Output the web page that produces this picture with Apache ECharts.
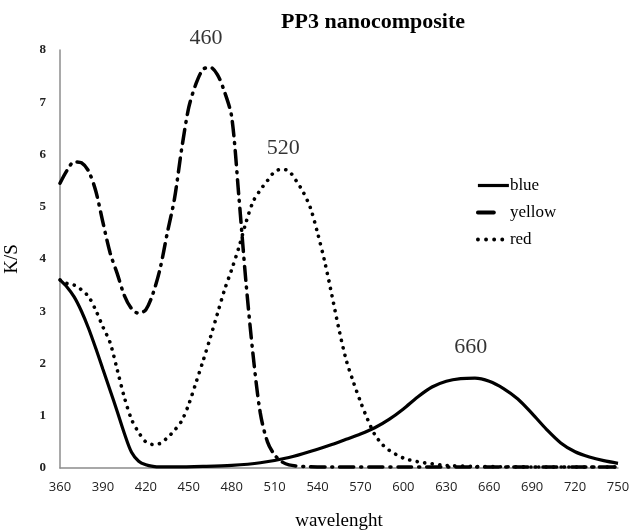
<!DOCTYPE html>
<html>
<head>
<meta charset="utf-8">
<script src="https://cdn.jsdelivr.net/npm/echarts@6/dist/echarts.min.js"></script>
<style>html,body{margin:0;padding:0;background:#fff;}#c{width:632px;height:532px;}</style>
</head>
<body>
<div id="c"></div>
<script>
// wavelength (nm) and K/S values
const blueX = [360,365,370,375,380,385,390,395,400,405,410,415,420,425,430,440,460,480,500,520,540,550,560,570,580,590,600,610,620,630,640,650,660,670,680,690,700,710,720,730,740,750];
const blueY = [3.6,3.46,3.27,3.0,2.67,2.29,1.89,1.49,1.08,0.66,0.3,0.13,0.06,0.03,0.02,0.02,0.03,0.05,0.1,0.2,0.36,0.45,0.55,0.65,0.77,0.93,1.13,1.36,1.55,1.66,1.71,1.72,1.66,1.52,1.32,1.04,0.74,0.48,0.31,0.21,0.14,0.09];

const yellowX = [360,365,370,375,380,385,390,395,400,405,410,415,420,425,430,435,440,445,450,455,460,465,470,475,480,485,490,495,500,505,510,515,520,530,550,600,650,700,750];
const yellowY = [5.45,5.7,5.86,5.84,5.68,5.3,4.7,4.12,3.72,3.3,3.05,2.96,3.03,3.34,3.82,4.5,5.15,6.1,6.9,7.35,7.63,7.67,7.53,7.2,6.72,5.2,3.55,2.15,1.05,0.5,0.25,0.12,0.06,0.03,0.02,0.02,0.02,0.02,0.02];

const redX = [360,365,370,375,380,385,390,395,400,405,410,415,420,425,430,435,440,445,450,455,460,465,470,475,480,485,490,495,500,505,510,515,520,525,530,535,540,545,550,555,560,565,570,575,580,585,590,600,610,620,630,650,700,750];
const redY = [3.6,3.53,3.5,3.41,3.28,3.02,2.7,2.4,1.88,1.35,0.93,0.68,0.5,0.45,0.47,0.58,0.72,0.9,1.22,1.63,2.05,2.49,2.95,3.41,3.8,4.22,4.7,5.1,5.32,5.5,5.67,5.72,5.68,5.5,5.28,4.98,4.5,3.95,3.31,2.65,2.07,1.65,1.27,0.93,0.64,0.46,0.34,0.19,0.12,0.08,0.05,0.03,0.02,0.02];

const peakText = ['460','520','660'];
const peakLabelX = [462,516,647];
const peakLabelY = [8.22,6.12,2.32];

const xTicks = {min:360, max:750, step:30};
const yTicks = {min:0, max:8, step:1};

function pairs(xs, ys){ return xs.map((x,i)=>[x, ys[i]]); }

const chart = echarts.init(document.getElementById('c'));
chart.setOption({
  animation:false,
  backgroundColor:'#fff',
  title:{
    text:'PP3 nanocomposite',
    left:368, top:6, textAlign:'center',
    textStyle:{fontFamily:'Liberation Serif', fontWeight:'bold', fontSize:22, color:'#000'}
  },
  grid:{left:60, right:14, top:50, bottom:64, containLabel:false, outerBoundsMode:'none'},
  legend:{
    orient:'vertical',
    left:471, top:172,
    itemWidth:31, itemHeight:12, itemGap:10,
    data:[
      {name:'blue', lineStyle:{width:3.2, type:'solid'}},
      {name:'yellow', lineStyle:{width:3.8, type:[16,40]}},
      {name:'red', lineStyle:{width:3.8, type:[0.1,8], cap:'round'}}
    ],
    itemStyle:{opacity:0},
    textStyle:{fontFamily:'Liberation Serif', fontSize:17, color:'#000', padding:[0,0,0,-4]}
  },
  xAxis:{
    type:'value', min:xTicks.min, max:xTicks.max, interval:xTicks.step,
    name:'wavelenght', nameLocation:'middle', nameGap:44,
    nameTextStyle:{fontFamily:'Liberation Serif', fontSize:19, color:'#000'},
    axisLine:{show:true, lineStyle:{color:'#8c8c8c', width:1.5}},
    axisTick:{show:false},
    splitLine:{show:false},
    axisLabel:{fontFamily:'Open Sans', fontSize:13, color:'#222', margin:13}
  },
  yAxis:{
    type:'value', min:yTicks.min, max:yTicks.max, interval:yTicks.step,
    name:'K/S', nameLocation:'middle', nameGap:38,
    nameTextStyle:{fontFamily:'Liberation Serif', fontSize:19, color:'#000'},
    axisLine:{show:true, lineStyle:{color:'#8c8c8c', width:1.5}},
    axisTick:{show:false},
    splitLine:{show:false},
    axisLabel:{fontFamily:'Liberation Serif', fontWeight:'bold', fontSize:13, color:'#222', margin:14}
  },
  series:[
    {name:'blue', type:'line', data:pairs(blueX, blueY), smooth:0.3, symbol:'none',
     lineStyle:{color:'#000', width:3.2, type:'solid'}, itemStyle:{color:'#000'}},
    {name:'yellow', type:'line', data:pairs(yellowX, yellowY), smooth:0.3, symbol:'none',
     lineStyle:{color:'#000', width:3.5, type:[14,7,1,7], cap:'round'}, itemStyle:{color:'#000'}},
    {name:'red', type:'line', data:pairs(redX, redY), smooth:0.3, symbol:'none',
     lineStyle:{color:'#000', width:3.6, type:[0.1,7.5], cap:'round'}, itemStyle:{color:'#000'}},
    {name:'peaks', type:'scatter', symbolSize:0, clip:false,
     data:peakLabelX.map((x,i)=>({value:[x, peakLabelY[i]], name:peakText[i]})),
     label:{show:true, position:'inside', formatter:p=>p.name,
            fontFamily:'Liberation Serif', fontSize:22, color:'#000'},
     silent:true}
  ]
});
</script>
</body>
</html>
